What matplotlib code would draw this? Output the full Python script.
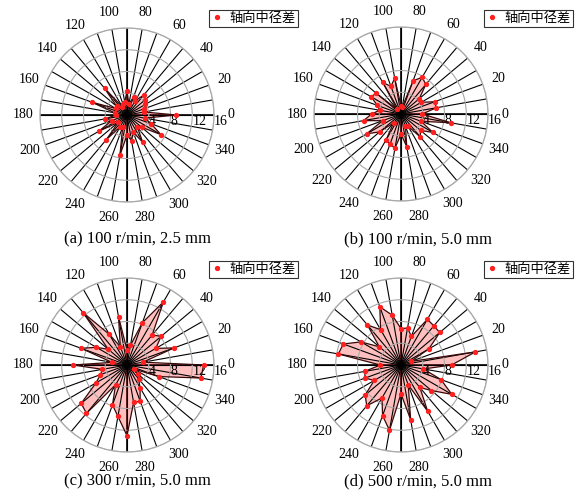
import numpy as np
import matplotlib
matplotlib.use("Agg")
import matplotlib.pyplot as plt

# angle of each measurement (deg)
angles_deg = np.arange(0, 360, 10)

# axial pitch-diameter difference
diff_a = [9.1, 3.2, 3.4, 3.9, 4.4, 4.8, 3.0, 3.6, 2.0, 4.4, 2.4, 2.1,
          1.8, 6.4, 2.5, 2.4, 6.9, 2.3, 2.0, 4.1, 3.0, 6.0, 2.1, 5.9,
          2.5, 2.3, 7.5, 3.7, 4.8, 3.4, 5.8, 3.0, 3.5, 7.2, 4.7, 3.3]
diff_b = [3.9, 6.6, 6.6, 4.3, 4.4, 7.1, 7.8, 6.5, 1.3, 1.5, 6.7, 5.4,
          6.7, 1.1, 5.9, 6.4, 4.6, 4.0, 5.4, 7.0, 3.6, 7.3, 5.1, 2.1,
          5.5, 5.9, 6.4, 3.7, 6.1, 2.4, 2.6, 5.5, 4.7, 6.8, 3.9, 9.3]
diff_c = [14.1, 3.0, 9.2, 6.1, 8.2, 7.2, 13.4, 8.3, 3.7, 2.8, 9.0, 3.6,
          6.5, 12.6, 4.5, 6.5, 9.0, 2.8, 9.9, 4.6, 5.2, 6.6, 11.0, 11.6,
          4.2, 7.8, 9.6, 13.0, 7.0, 7.1, 4.8, 3.3, 2.6, 1.5, 6.2, 13.8]
diff_d = [9.3, 13.9, 1.9, 5.9, 9.3, 9.4, 9.7, 5.6, 6.9, 6.7, 9.3, 11.4,
          7.5, 9.6, 5.2, 8.5, 11.3, 11.7, 3.8, 6.8, 7.0, 5.7, 8.6, 9.8,
          7.0, 9.9, 12.2, 5.3, 10.2, 3.9, 9.8, 5.4, 7.3, 10.8, 7.8, 4.2]

captions = ["(a) 100 r/min, 2.5 mm", "(b) 100 r/min, 5.0 mm",
            "(c) 300 r/min, 5.0 mm", "(d) 500 r/min, 5.0 mm"]
legend_label = "轴向中径差"
r_ticks = [4, 8, 12, 16]

serif = "Liberation Serif"
cjk = ["Noto Sans CJK SC", "DejaVu Sans"]

W, H = 579, 500
fig = plt.figure(figsize=(W / 100, H / 100), dpi=100)

# panel centres (px) and radius
centres = [(127, 115), (401, 114), (127, 365), (401, 365)]
rad = 87
cap_pos = [(137, 239), (418, 239), (137, 481), (418, 481)]
leg_pos = [(298, 10), (573, 10), (298, 261), (573, 261)]

series = [diff_a, diff_b, diff_c, diff_d]

theta = np.deg2rad(angles_deg)
theta_c = np.append(theta, theta[0])

for i, vals in enumerate(series):
    cx, cy = centres[i]
    ax = fig.add_axes([(cx - rad) / W, 1 - (cy + rad) / H, 2 * rad / W, 2 * rad / H],
                      projection="polar")
    r = np.append(np.array(vals), vals[0])
    ax.fill(theta_c, r, color="#ff0000", alpha=0.25, lw=0, zorder=1)
    ax.plot(theta_c, r, color="#3a0808", lw=0.9, zorder=3)
    ax.plot(theta, vals, ls="none", marker="o", ms=2.8, color="#ff2020",
            mec="#ff2020", zorder=4, label=legend_label)

    ax.set_ylim(0, 16)
    ax.set_rticks(r_ticks)
    ax.set_rlabel_position(0)
    labels = [str(a) if a % 20 == 0 else "" for a in angles_deg]
    ax.set_thetagrids(angles_deg, labels)
    ax.xaxis.grid(True, color="black", lw=0.8)
    ax.yaxis.grid(True, color="#a8a8a8", lw=0.8)
    ax.spines["polar"].set_color("#a8a8a8")
    ax.spines["polar"].set_linewidth(0.9)
    for a in (0, 90, 180, 270):
        ax.axvline(np.deg2rad(a), color="black", lw=1.2, zorder=0.5)
    ax.tick_params(axis="x", pad=1.5, labelsize=10)
    ax.tick_params(axis="y", labelsize=10)
    for t in ax.get_xticklabels():
        t.set_fontfamily(serif)
    for t in ax.get_yticklabels():
        t.set_fontfamily(serif)
        t.set_verticalalignment("top")
        t.set_horizontalalignment("left")

    lx, ly = leg_pos[i]
    leg = ax.legend(loc="upper right", bbox_to_anchor=(lx / W, 1 - ly / H),
                    bbox_transform=fig.transFigure, frameon=True, fancybox=False,
                    borderpad=0.15, handlelength=0.8, handletextpad=0.6,
                    borderaxespad=0, prop={"family": cjk, "size": 9.5})
    leg.get_frame().set_edgecolor("black")
    leg.get_frame().set_linewidth(0.8)

    px, py = cap_pos[i]
    fig.text(px / W, 1 - py / H, captions[i], ha="center", va="center",
             fontsize=12, fontfamily=serif)

fig.savefig("out.png", dpi=100)
